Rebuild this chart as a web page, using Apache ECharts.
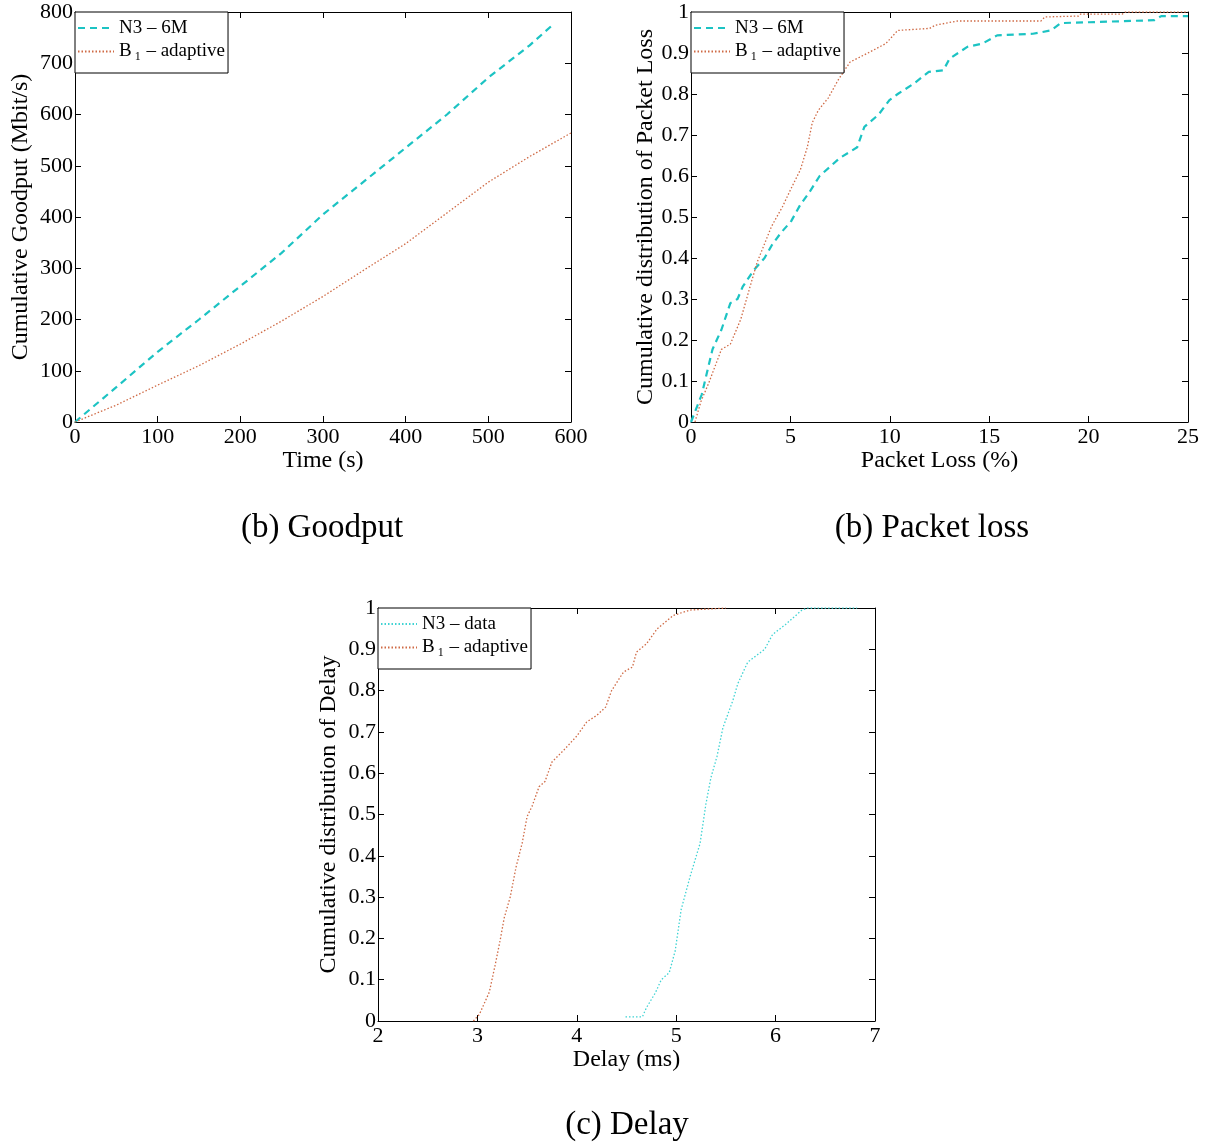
<!DOCTYPE html>
<html>
<head>
<meta charset="utf-8">
<script src="https://cdn.jsdelivr.net/npm/echarts@6/dist/echarts.min.js"></script>
<style>html,body{margin:0;padding:0;background:#fff}#c{width:1216px;height:1146px}</style>
</head>
<body>
<div id="c"></div>
<script>
// ---- Data ----
const goodputTimeN3 = [0, 50, 100, 150, 200, 250, 300, 350, 400, 450, 500, 550, 580];
const goodputN3 = [0, 68, 137, 200, 265, 330, 405, 470, 535, 600, 672, 735, 778];
const goodputTimeB1 = [0, 50, 100, 150, 200, 250, 300, 350, 400, 450, 500, 550, 600];
const goodputB1 = [0, 33, 72, 110, 152, 197, 245, 297, 348, 408, 468, 518, 564];

const lossXN3 = [0, 0.54, 1.08, 1.53, 1.98, 2.34, 2.6, 3.15, 3.7, 4.05, 4.5, 5.04, 5.5, 5.95, 6.47, 7.46, 8.36, 8.72, 9.44, 9.98, 10.4, 11.2, 11.96, 12.7, 13.0, 13.9, 14.66, 15.4, 17.2, 18.1, 18.6, 20.0, 23.3, 23.65, 25];
const lossYN3 = [0, 0.067, 0.177, 0.225, 0.29, 0.30, 0.33, 0.37, 0.40, 0.43, 0.46, 0.49, 0.53, 0.56, 0.60, 0.643, 0.67, 0.72, 0.75, 0.785, 0.80, 0.825, 0.854, 0.858, 0.886, 0.915, 0.923, 0.943, 0.947, 0.955, 0.973, 0.975, 0.98, 0.99, 0.99];
const lossXB1 = [0.2, 0.5, 0.9, 1.53, 1.98, 2.5, 2.97, 3.33, 4.05, 4.6, 5.04, 5.5, 5.85, 6.1, 6.4, 6.9, 7.4, 8.0, 8.9, 9.8, 10.4, 12.0, 12.3, 13.4, 17.6, 17.8, 19.5, 19.6, 21.7, 21.85, 25];
const lossYB1 = [0, 0.05, 0.096, 0.177, 0.19, 0.25, 0.33, 0.39, 0.477, 0.525, 0.57, 0.615, 0.67, 0.73, 0.76, 0.79, 0.834, 0.878, 0.90, 0.923, 0.955, 0.96, 0.968, 0.978, 0.978, 0.988, 0.99, 0.995, 0.995, 1.0, 1.0];

const delayXN3 = [4.49, 4.66, 4.7, 4.79, 4.85, 4.93, 4.99, 5.05, 5.14, 5.24, 5.3, 5.35, 5.41, 5.47, 5.57, 5.62, 5.72, 5.89, 5.97, 6.1, 6.26, 6.32, 6.82];
const delayYN3 = [0.01, 0.01, 0.032, 0.068, 0.10, 0.117, 0.17, 0.27, 0.35, 0.43, 0.527, 0.59, 0.64, 0.71, 0.776, 0.817, 0.869, 0.90, 0.936, 0.96, 0.994, 1.0, 1.0];
const delayXB1 = [2.96, 3.02, 3.12, 3.18, 3.23, 3.27, 3.33, 3.39, 3.45, 3.5, 3.55, 3.62, 3.68, 3.75, 3.87, 4.0, 4.1, 4.2, 4.29, 4.35, 4.47, 4.56, 4.6, 4.7, 4.81, 4.97, 5.14, 5.5];
const delayYB1 = [0, 0.016, 0.07, 0.137, 0.197, 0.25, 0.30, 0.374, 0.43, 0.495, 0.52, 0.567, 0.58, 0.627, 0.656, 0.69, 0.724, 0.74, 0.76, 0.80, 0.845, 0.857, 0.893, 0.913, 0.95, 0.982, 0.995, 1.0];

const nameN3a = 'N3 – 6M';
const nameB1 = 'B1 – adaptive';
const nameN3b = 'N3 – data';
const captions = ['(b) Goodput', '(b) Packet loss', '(c) Delay'];

// ---- Helpers ----
const zip = (xs, ys) => xs.map((x, i) => [x, ys[i]]);
const FONT = 'Liberation Serif';
const CYAN = '#1cc3c3';
const CYAN_LIGHT = '#3fd3d3';
const ORANGE = '#cf6a45';
const FS = 22;
const NFS = 24;

const grids = [
  {left: 75, top: 12, width: 496, height: 410},
  {left: 691, top: 12, width: 497, height: 410},
  {left: 378, top: 608, width: 497, height: 413}
];

const axisCommon = (gi, min, max, interval) => ({
  type: 'value', gridIndex: gi, min: min, max: max, interval: interval,
  splitLine: {show: false},
  axisLine: {show: true, onZero: false, lineStyle: {color: '#000', width: 1}},
  axisTick: {show: true, inside: true, length: 6, lineStyle: {color: '#000'}}
});

function xAxes(gi, min, max, interval, name) {
  const c = axisCommon(gi, min, max, interval);
  return [
    Object.assign({}, c, {
      position: 'bottom', name: name, nameLocation: 'middle', nameGap: 22,
      nameTextStyle: {fontFamily: FONT, fontSize: NFS, color: '#000'},
      axisLabel: {fontFamily: FONT, fontSize: FS, color: '#000', margin: 4}
    }),
    Object.assign({}, c, {position: 'top', axisLabel: {show: false}})
  ];
}
function yAxes(gi, min, max, interval, name, gap) {
  const c = axisCommon(gi, min, max, interval);
  return [
    Object.assign({}, c, {
      position: 'left', name: name, nameLocation: 'middle', nameGap: gap,
      nameTextStyle: {fontFamily: FONT, fontSize: NFS, color: '#000'},
      axisLabel: {fontFamily: FONT, fontSize: FS, color: '#000', margin: 2}
    }),
    Object.assign({}, c, {position: 'right', axisLabel: {show: false}})
  ];
}

const xAxis = [].concat(
  xAxes(0, 0, 600, 100, 'Time (s)'),
  xAxes(1, 0, 25, 5, 'Packet Loss (%)'),
  xAxes(2, 2, 7, 1, 'Delay (ms)')
);
const yAxis = [].concat(
  yAxes(0, 0, 800, 100, 'Cumulative Goodput (Mbit/s)', 42),
  yAxes(1, 0, 1, 0.1, 'Cumulative distribution of Packet Loss', 29),
  yAxes(2, 0, 1, 0.1, 'Cumulative distribution of Delay', 37)
);

const dashed = {color: CYAN, width: 2.2, type: [7, 5]};
const dottedO = {color: ORANGE, width: 1.3, type: [1.5, 2]};
const dottedC = {color: CYAN_LIGHT, width: 1.3, type: [1.5, 2]};

function line(name, xi, yi, data, ls) {
  return {type: 'line', name: name, xAxisIndex: xi, yAxisIndex: yi, data: data,
    symbol: 'none', showSymbol: false, lineStyle: ls, itemStyle: {color: ls.color}, silent: true, animation: false};
}

const series = [
  line(nameN3a, 0, 0, zip(goodputTimeN3, goodputN3), dashed),
  line(nameB1, 0, 0, zip(goodputTimeB1, goodputB1), dottedO),
  line(nameN3a, 2, 2, zip(lossXN3, lossYN3), dashed),
  line(nameB1, 2, 2, zip(lossXB1, lossYB1), dottedO),
  line(nameN3b, 4, 4, zip(delayXN3, delayYN3), dottedC),
  line(nameB1, 4, 4, zip(delayXB1, delayYB1), dottedO)
];

function legend(g, names) {
  return {
    orient: 'vertical', left: g.left, top: g.top, data: names,
    backgroundColor: '#fff', borderColor: '#000', borderWidth: 1,
    padding: [5, 3, 10, 2], itemGap: 1, itemWidth: 36, itemHeight: 14,
    selectedMode: false,
    itemStyle: {opacity: 0},
    formatter: n => n.replace('B1', 'B{sub|1}'),
    textStyle: {fontFamily: FONT, fontSize: 19, lineHeight: 22, color: '#000',
      rich: {sub: {fontFamily: FONT, fontSize: 12, lineHeight: 22, color: '#000', padding: [11, 1, 0, 3]}}}
  };
}

const option = {
  animation: false,
  backgroundColor: '#fff',
  grid: grids.map(g => Object.assign({containLabel: false}, g)),
  xAxis: xAxis,
  yAxis: yAxis,
  legend: [
    legend(grids[0], [nameN3a, nameB1]),
    legend(grids[1], [nameN3a, nameB1]),
    legend(grids[2], [nameN3b, nameB1])
  ],
  series: series,
  graphic: [
    {type: 'text', x: 322, y: 528, style: {text: captions[0], font: '33px ' + FONT, fill: '#000', align: 'center', verticalAlign: 'middle'}},
    {type: 'text', x: 932, y: 528, style: {text: captions[1], font: '33px ' + FONT, fill: '#000', align: 'center', verticalAlign: 'middle'}},
    {type: 'text', x: 627, y: 1125, style: {text: captions[2], font: '33px ' + FONT, fill: '#000', align: 'center', verticalAlign: 'middle'}}
  ]
};

const chart = echarts.init(document.getElementById('c'), null, {renderer: 'canvas'});
chart.setOption(option);
</script>
</body>
</html>
